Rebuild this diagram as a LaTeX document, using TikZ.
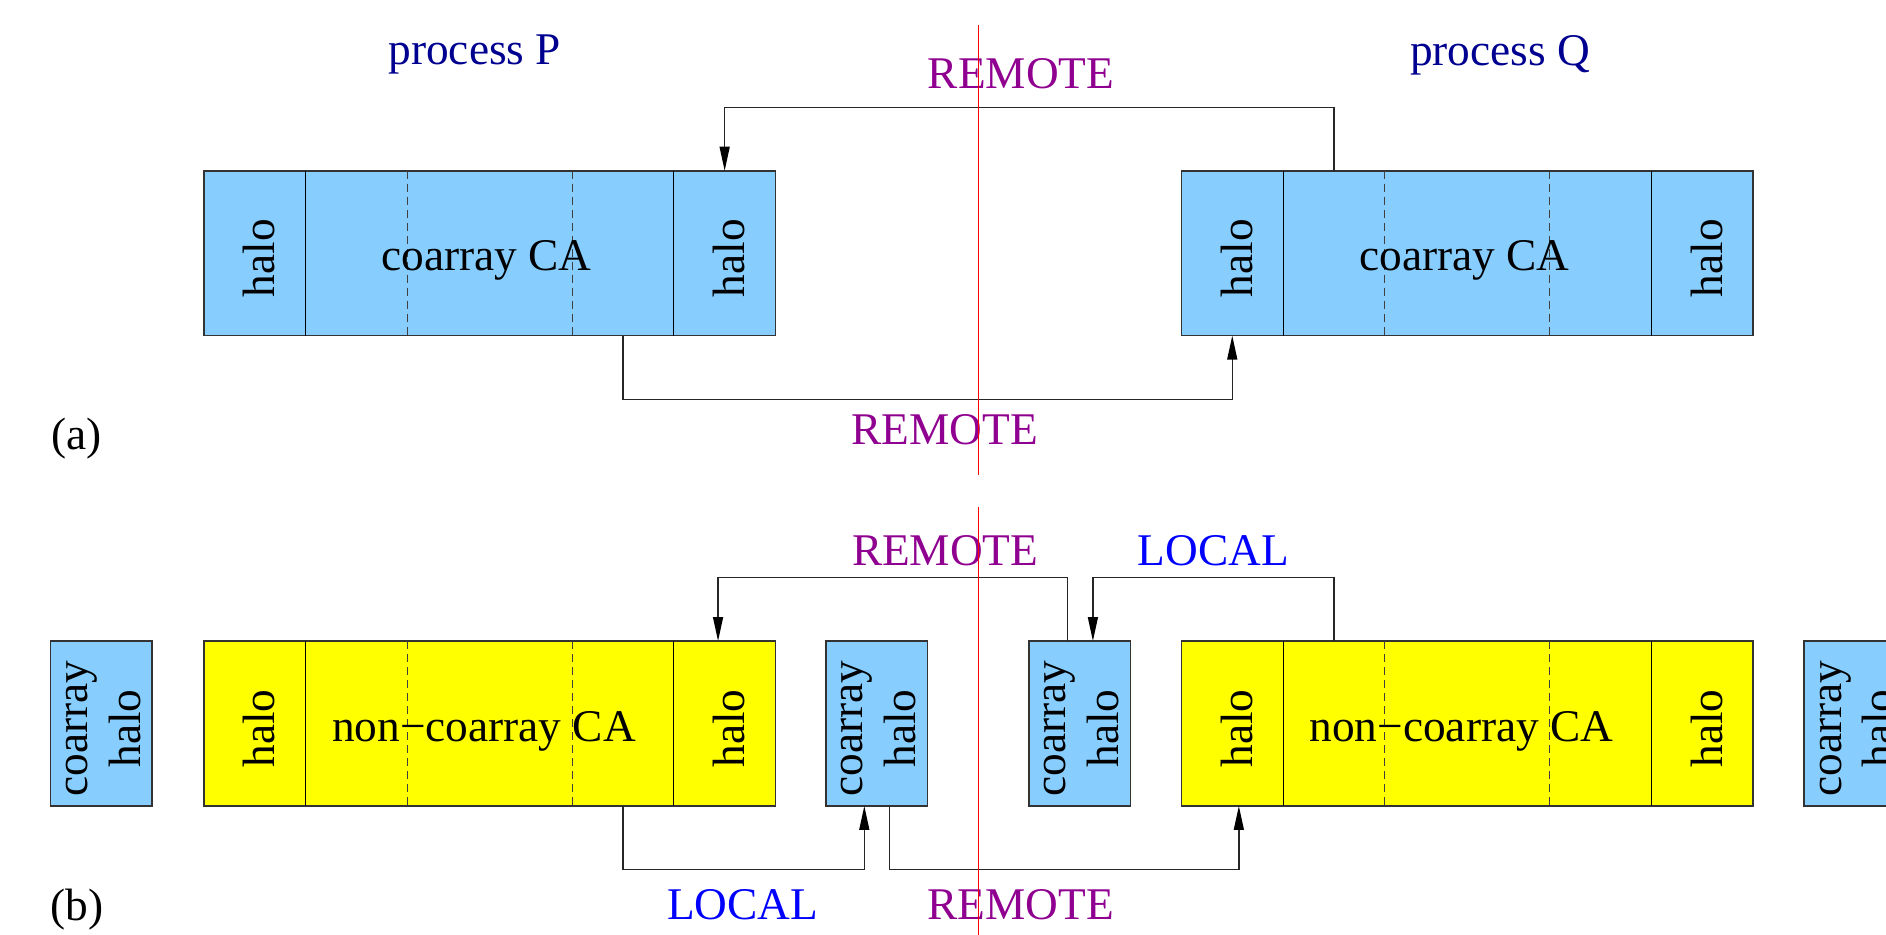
\documentclass[tikz,border=0pt]{standalone}
\usepackage{fontspec}
\setmainfont{Liberation Serif}
\usetikzlibrary{arrows.meta,calc}
\definecolor{ltblue}{RGB}{135,206,255}
\definecolor{yel}{RGB}{255,255,0}
\definecolor{navytxt}{RGB}{0,0,144}
\definecolor{magtxt}{RGB}{144,0,144}
\definecolor{loctxt}{RGB}{0,0,255}
\tikzset{
  cellw/.style={draw=none, minimum width=2.034cm, minimum height=3.3cm, inner sep=0pt, outer sep=0pt},
  cellm/.style={draw=none, minimum width=3.3cm, minimum height=3.3cm, inner sep=0pt, outer sep=0pt},
  outerbox/.style={draw=black!80, line width=0.9pt},
  divider/.style={draw=black, line width=0.5pt},
  dashdiv/.style={draw=black!75, line width=0.5pt, dash pattern=on 0.16cm off 0.1cm},
  conn/.style={draw=black!85, line width=0.8pt},
  arr/.style={conn, -{Triangle[length=0.48cm,width=0.2cm,color=black]}},
  lbl/.style={font=\fontsize{25.8}{30}\selectfont, inner sep=0pt, anchor=base},
  rot/.style={font=\fontsize{25.8}{30}\selectfont, inner sep=0pt, rotate=90, align=center},
  redline/.style={draw=red, line width=0.6pt},
}
\newcommand{\mkarray}[4]{%
  \node[cellw] (#1c1) at ({#2+50.85},{#3+82.5}) {};
  \node[cellw] (#1c2) at ({#2+152.55},{#3+82.5}) {};
  \node[cellm] (#1c3) at ({#2+285.9},{#3+82.5}) {};
  \node[cellw] (#1c4) at ({#2+419.25},{#3+82.5}) {};
  \node[cellw] (#1c5) at ({#2+520.95},{#3+82.5}) {};
  \filldraw[fill=#4, outerbox] (#1c1.north west) rectangle (#1c5.south east);
  \draw[divider] (#1c1.north east) -- (#1c1.south east);
  \draw[dashdiv] (#1c2.north east) -- (#1c2.south east);
  \draw[dashdiv] (#1c3.north east) -- (#1c3.south east);
  \draw[divider] (#1c4.north east) -- (#1c4.south east);
  \node[rot] (#1h1) at ($(#1c1)+(4.5,5)$) {halo};
  \node[rot] (#1h2) at ($(#1c5)+(4.5,5)$) {halo};
}
\newcommand{\mkhalo}[3]{%
  \node[cellw, fill=ltblue, outerbox] (#1) at ({#2+50.85},{#3+82.5}) {};
  \node[rot] (#1t) at ($(#1)+(2,5)$) {coarray\\halo};
}
\begin{document}
\begin{tikzpicture}[x=0.02cm, y=-0.02cm]
\useasboundingbox (0,0) rectangle (1886,935);
\clip (0,0) rectangle (1886,935);

% ---------- panel (a) ----------
\mkarray{P}{203.7}{170.7}{ltblue}
\mkarray{Q}{1181.4}{170.7}{ltblue}
\node[lbl] (Pt) at (486.5,271) {coarray CA};
\node[lbl] (Qt) at (1464.5,271) {coarray CA};

\node[lbl, text=navytxt] (procP) at (474.8,65) {process P};
\node[lbl, text=navytxt] (procQ) at (1500,66) {process Q};
\node[lbl, text=magtxt] (remA1) at (1021,88.3) {REMOTE};
\node[lbl, text=magtxt] (remA2) at (944.7,444.3) {REMOTE};
\node[lbl] (labA) at (76.7,450) {(a)};

\draw[arr] (Qc2.north) -- ++(0,-63) -| (Pc5.north);
\draw[arr] (Pc4.south) -- ++(0,63.6) -| (Qc1.south);

% ---------- panel (b) ----------
\mkhalo{B0}{50.5}{641}
\mkarray{Y}{203.7}{641}{yel}
\mkhalo{B1}{825.7}{641}
\mkhalo{B2}{1028.9}{641}
\mkarray{Z}{1181.4}{641}{yel}
\mkhalo{B3}{1804.2}{641}
\node[lbl] (Yt) at (484,741.7) {non−coarray CA};
\node[lbl] (Zt) at (1461.4,741.7) {non−coarray CA};

\node[lbl, text=magtxt] (remB1) at (945.2,565) {REMOTE};
\node[lbl, text=loctxt] (locB1) at (1213.4,565) {LOCAL};
\node[lbl, text=loctxt] (locB2) at (742.7,919.3) {LOCAL};
\node[lbl, text=magtxt] (remB2) at (1020.9,919.3) {REMOTE};
\node[lbl] (labB) at (76.7,920) {(b)};

\draw[arr] ($(B2.north)+(-12.25,0)$) -- ++(0,-63.7) -| ($(Yc5.north)+(-6.6,0)$);
\draw[arr] (Zc2.north) -- ++(0,-63.7) -| ($(B2.north)+(13.15,0)$);
\draw[arr] (Yc4.south) -- ++(0,63.3) -| ($(B1.south)+(-12.25,0)$);
\draw[arr] ($(B1.south)+(13,0)$) -- ++(0,63.3) -| ($(Zc1.south)+(6.6,0)$);

% ---------- red separators ----------
\coordinate (ra1) at (978.2,25);
\coordinate (ra2) at (978.2,475);
\coordinate (rb1) at (978.2,507);
\coordinate (rb2) at (978.2,935);
\draw[redline] (ra1) -- (ra2);
\draw[redline] (rb1) -- (rb2);
\end{tikzpicture}
\end{document}
